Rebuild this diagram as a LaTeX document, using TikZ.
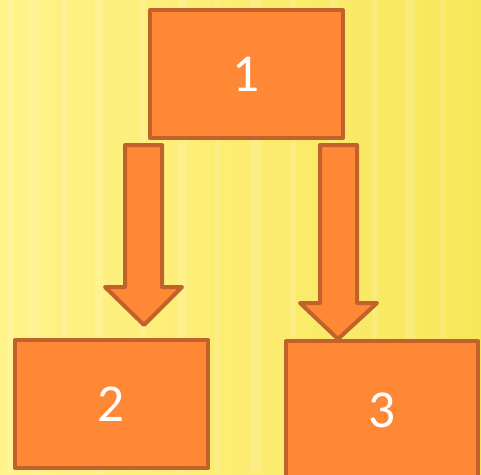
\documentclass[tikz,border=0pt]{standalone}
\usepackage{fontspec}
\setmainfont{Carlito}
\usepackage{tikz}

\definecolor{boxfill}{HTML}{FF8836}
\definecolor{boxline}{HTML}{C0622A}
\definecolor{bgleft}{HTML}{FFF38A}
\definecolor{bgright}{HTML}{F8E65A}

\tikzset{
  box/.style={draw=boxline, fill=boxfill, line width=3pt, line join=round,
    text=white, font=\fontsize{40}{44}\selectfont, inner sep=0pt},
  blockarrow/.style={draw=boxline, fill=boxfill, line width=3pt, line join=round}
}

\begin{document}
\begin{tikzpicture}[x=0.75pt,y=0.75pt,yscale=-1,xscale=1]
% Background
\shade[left color=bgleft, right color=bgright] (0,0) rectangle (481,474);
\foreach \sx/\sw in {8/6,30/10,62/5,95/8,140/6,178/9,215/5,250/12,290/6,330/8,372/5,405/10,440/6}
  \fill[white, opacity=0.14] (\sx,0) rectangle ++(\sw,474);
\useasboundingbox (0,0) rectangle (481,474);

% Box 1
\node[box, minimum width=144.75pt, minimum height=96pt] (one) at (246.5,74) {1};
% Box 2
\node[box, minimum width=144.75pt, minimum height=96pt] (two) at (111.5,404) {2};
% Box 3
\node[box, minimum width=144pt, minimum height=104pt] (three) at (382,410.5) {3};

% Shape: left arrow
\draw[blockarrow] (125,145) -- (162,145) -- (162,287) -- (182,287) -- (144,325)
  -- (105,287) -- (125,287) -- cycle;
% Shape: right arrow
\draw[blockarrow] (320,145) -- (357,145) -- (357,303) -- (377,303) -- (338,339)
  -- (300,303) -- (320,303) -- cycle;

\end{tikzpicture}
\end{document}
